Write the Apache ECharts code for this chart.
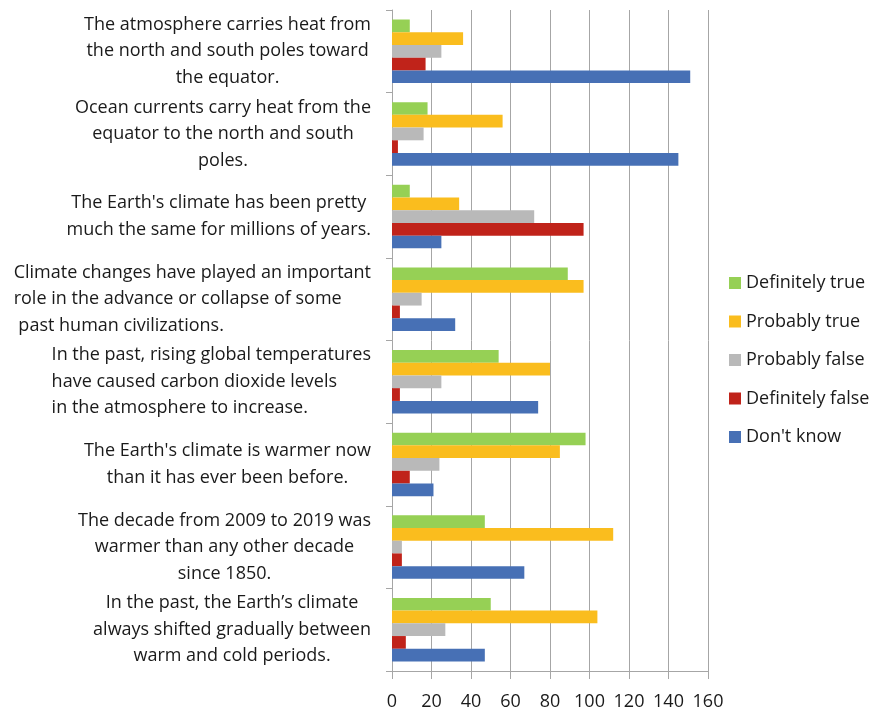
<!DOCTYPE html>
<html>
<head>
<meta charset="utf-8">
<script src="https://cdn.jsdelivr.net/npm/echarts@6/dist/echarts.min.js"></script>
<style>
  html, body { margin: 0; padding: 0; background: #fff; }
  #chart { width: 877px; height: 711px; }
</style>
</head>
<body>
<div id="chart"></div>
<script>
// Survey statements (top to bottom); "\n" marks the line breaks of each label
const statements = [
  "The atmosphere carries heat from\nthe north and south poles toward\nthe equator.",
  "Ocean currents carry heat from the\nequator to the north and south\npoles.",
  "The Earth's climate has been pretty\nmuch the same for millions of years.",
  "Climate changes have played an important\nrole in the advance or collapse of some\n past human civilizations.",
  "In the past, rising global temperatures\nhave caused carbon dioxide levels\nin the atmosphere to increase.",
  "The Earth's climate is warmer now\nthan it has ever been before.",
  "The decade from 2009 to 2019 was\nwarmer than any other decade\nsince 1850.",
  "In the past, the Earth\u2019s climate\nalways shifted gradually between\nwarm and cold periods."
];

// Response counts per statement
const definitelyTrue  = [9, 18, 9, 89, 54, 98, 47, 50];
const probablyTrue    = [36, 56, 34, 97, 80, 85, 112, 104];
const probablyFalse   = [25, 16, 72, 15, 25, 24, 5, 27];
const definitelyFalse = [17, 3, 97, 4, 4, 9, 5, 7];
const dontKnow        = [151, 145, 25, 32, 74, 21, 67, 47];

const seriesNames = ["Definitely true", "Probably true", "Probably false", "Definitely false", "Don't know"];
const seriesValues = [definitelyTrue, probablyTrue, probablyFalse, definitelyFalse, dontKnow];
const seriesColors = ["#96d055", "#fabd1e", "#b9b9b9", "#c0231a", "#4770b5"];

// Line alignment inside each label block (two labels are left-aligned)
const labelLineAlign = ["c", "c", "c", "l", "l", "c", "c", "c"];

const FONT = "Open Sans";
const TEXT_COLOR = "#1a1a1a";
const chart = echarts.init(document.getElementById("chart"), null, { renderer: "canvas" });

chart.setOption({
  animation: false,
  backgroundColor: "#ffffff",
  textStyle: { fontFamily: FONT },
  grid: { left: 392, right: 169, top: 10, bottom: 39, containLabel: false },
  legend: {
    orient: "vertical",
    left: 729,
    top: 274,
    padding: 0,
    itemWidth: 12,
    itemHeight: 12,
    itemGap: 20.5,
    icon: "rect",
    data: seriesNames,
    textStyle: { fontFamily: FONT, fontSize: 18, lineHeight: 18, color: TEXT_COLOR }
  },
  xAxis: {
    type: "value",
    min: 0,
    max: 160,
    interval: 20,
    axisLine: { show: true, lineStyle: { color: "#a6a6a6", width: 1 } },
    axisTick: { show: true, length: 8, lineStyle: { color: "#a6a6a6" } },
    splitLine: { show: true, lineStyle: { color: "#a6a6a6", width: 1 } },
    axisLabel: { fontFamily: FONT, fontSize: 18, color: TEXT_COLOR, margin: 22 }
  },
  yAxis: {
    type: "category",
    inverse: true,
    data: statements,
    axisLine: { show: true, lineStyle: { color: "#a6a6a6", width: 1 } },
    axisTick: { show: true, length: 6, lineStyle: { color: "#a6a6a6" } },
    axisLabel: {
      margin: 21,
      align: "right",
      formatter: function (value, idx) {
        const key = labelLineAlign[idx];
        return value.split("\n").map(function (line) { return "{" + key + "|" + line + "}"; }).join("\n");
      },
      rich: {
        c: { align: "center", fontFamily: FONT, fontSize: 18, lineHeight: 26.5, color: TEXT_COLOR },
        l: { align: "left", fontFamily: FONT, fontSize: 18, lineHeight: 26.5, color: TEXT_COLOR }
      }
    }
  },
  series: seriesNames.map(function (name, i) {
    return {
      name: name,
      type: "bar",
      data: seriesValues[i],
      barGap: "0%",
      barCategoryGap: "23%",
      itemStyle: { color: seriesColors[i] }
    };
  })
});
</script>
</body>
</html>
